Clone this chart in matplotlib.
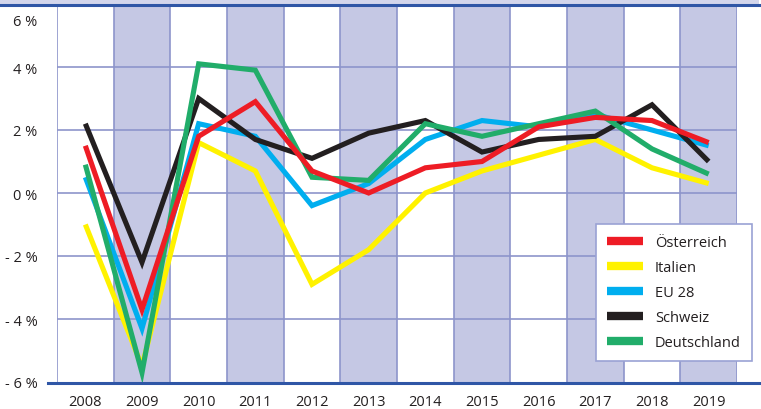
import numpy as np
import matplotlib
matplotlib.use('Agg')
import matplotlib.pyplot as plt
import matplotlib.transforms as mtransforms
from matplotlib.lines import Line2D
from matplotlib.patches import Rectangle

plt.rcParams['font.family'] = ['Open Sans', 'DejaVu Sans']

years = [2008, 2009, 2010, 2011, 2012, 2013, 2014, 2015, 2016, 2017, 2018, 2019]

oesterreich = [1.5, -3.7, 1.8, 2.9, 0.7, 0.0, 0.8, 1.0, 2.1, 2.4, 2.3, 1.6]
italien = [-1.0, -5.5, 1.6, 0.7, -2.9, -1.8, 0.0, 0.7, 1.2, 1.7, 0.8, 0.3]
eu28 = [0.5, -4.3, 2.2, 1.8, -0.4, 0.3, 1.7, 2.3, 2.1, 2.5, 2.0, 1.5]
schweiz = [2.2, -2.2, 3.0, 1.7, 1.1, 1.9, 2.3, 1.3, 1.7, 1.8, 2.8, 1.0]
deutschland = [0.9, -5.7, 4.1, 3.9, 0.5, 0.4, 2.2, 1.8, 2.2, 2.6, 1.4, 0.6]

series_names = ['Österreich', 'Italien', 'EU 28', 'Schweiz', 'Deutschland']
series_colors = ['#ee1c25', '#fff200', '#00aeef', '#231f20', '#21ad6a']
draw_order = ['Italien', 'EU 28', 'Schweiz', 'Deutschland', 'Österreich']

y_ticks = [-6, -4, -2, 0, 2, 4, 6]
y_labels = ['- 6 %', '- 4 %', '- 2 %', '0 %', '2 %', '4 %', '6 %']

data = {'Österreich': oesterreich, 'Italien': italien, 'EU 28': eu28,
        'Schweiz': schweiz, 'Deutschland': deutschland}
colors = dict(zip(series_names, series_colors))

W, H = 761, 410
fig = plt.figure(figsize=(W / 100, H / 100), dpi=100)
ax = fig.add_axes([57 / W, 1 - 383 / H, 680 / W, 378 / H])

grid_col = '#8d95cb'
shade_col = '#c5c8e4'
dark_blue = '#2f56a6'

# shaded columns (odd years)
for y in years:
    if y % 2 == 1:
        ax.axvspan(y - 0.5, y + 0.5, color=shade_col, lw=0, zorder=0)
for y in years:
    ax.axvline(y - 0.5, color=grid_col, lw=1.2, zorder=1)
ax.axvline(years[-1] + 0.5, color=grid_col, lw=1.2, zorder=1)
for v in [-4, -2, 0, 2, 4]:
    ax.axhline(v, color=grid_col, lw=1.2, zorder=1)

for name in draw_order:
    ax.plot(years, data[name], color=colors[name], lw=3.7, zorder=3,
            solid_joinstyle='miter', solid_capstyle='butt')

ax.set_xlim(years[0] - 0.5, years[-1] + 0.5)
ax.set_ylim(-6, 6)
ax.set_xticks(years)
ax.set_xticklabels([str(y) for y in years], fontsize=10.5, color='#231f20')
ax.set_yticks(y_ticks)
ax.set_yticklabels(y_labels, fontsize=10.5, color='#231f20')
ax.tick_params(length=0)
ax.tick_params(axis='x', pad=9)
ax.tick_params(axis='y', pad=14)
for s in ax.spines.values():
    s.set_visible(False)

# top label sits a bit lower than its line
lab6 = ax.get_yticklabels()[-1]
lab6.set_transform(lab6.get_transform() +
                   mtransforms.ScaledTranslation(0, -15 / 100, fig.dpi_scale_trans))

# top band and thick blue rules
fig.patches.append(Rectangle((0, 1 - 5 / H), 759 / W, 5 / H, transform=fig.transFigure,
                             color='#d3d6ec', lw=0, zorder=0))
fig.add_artist(Line2D([0, 759 / W], [1 - 6 / H, 1 - 6 / H], color=dark_blue, lw=2.2))
fig.add_artist(Line2D([48 / W, 759 / W], [1 - 384 / H, 1 - 384 / H], color=dark_blue, lw=2.2))

handles = [Line2D([0], [0], color=colors[n], lw=6, solid_capstyle='butt') for n in series_names]
leg = ax.legend(handles, series_names, loc='upper left',
                bbox_to_anchor=((596 - 57) / 680, (383 - 225) / 378),
                fontsize=10.5, frameon=True, fancybox=False, handlelength=2.5,
                handletextpad=0.8, labelspacing=0.68, borderpad=0.75, borderaxespad=0,
                framealpha=1)
leg.get_frame().set_edgecolor('#9aa2d4')
leg.get_frame().set_linewidth(1.2)
leg.set_zorder(5)
for t in leg.get_texts():
    t.set_color('#231f20')

fig.savefig('out.png', dpi=100)
